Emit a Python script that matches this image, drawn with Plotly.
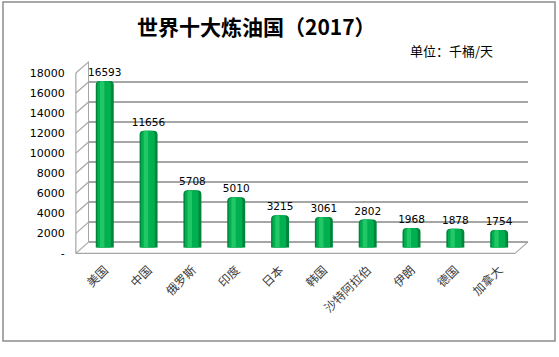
import plotly.graph_objects as go

categories = ["美国", "中国", "俄罗斯", "印度", "日本", "韩国", "沙特阿拉伯", "伊朗", "德国", "加拿大"]
values = [16593, 11656, 5708, 5010, 3215, 3061, 2802, 1968, 1878, 1754]
tick_vals = [0, 2000, 4000, 6000, 8000, 10000, 12000, 14000, 16000, 18000]
tick_text = ["-", "2000", "4000", "6000", "8000", "10000", "12000", "14000", "16000", "18000"]
title_text = "世界十大炼油国（2017）"
unit_text = "单位：千桶/天"

W, H = 559, 357
YMAX = 18000


def fx(px):
    return px / W


def fy(py):
    return 1 - py / H


# depth geometry (pixels)
FRONT_L, FRONT_R, FRONT_B, FRONT_T = 75, 515, 263, 75.7
BACK_L, BACK_R, BACK_B, BACK_T = 88, 528, 251, 64
MID_L, MID_R, MID_B, MID_T = 82, 521, 257, 69.5

fig = go.Figure()

# subplot 1: back wall gridlines (invisible trace to establish axes)
fig.add_trace(go.Scatter(x=[0, 1], y=[0, 0], mode="markers", marker=dict(opacity=0),
                         hoverinfo="skip", showlegend=False, xaxis="x", yaxis="y"))

# subplot 2: cylinder-like bars
fig.add_trace(go.Bar(x=categories, y=values, width=0.41, offset=-0.205,
                     marker=dict(color="#00863A", cornerradius=4, line=dict(width=0)),
                     text=[str(v) for v in values], textposition="outside", constraintext="none",
                     textfont=dict(family="DejaVu Sans", size=10.5, color="#000000"),
                     cliponaxis=False, showlegend=False, xaxis="x2", yaxis="y2"))
fig.add_trace(go.Bar(x=categories, y=values, width=0.31, offset=-0.17,
                     marker=dict(color="#00B050", cornerradius=4, line=dict(width=0)),
                     showlegend=False, xaxis="x2", yaxis="y2"))
fig.add_trace(go.Bar(x=categories, y=values, width=0.1, offset=-0.11,
                     marker=dict(color="#22C866", cornerradius=3, line=dict(width=0)),
                     showlegend=False, xaxis="x2", yaxis="y2"))

grid_col = "#A6A6A6"
shapes = []
# outer border
shapes.append(dict(type="rect", xref="paper", yref="paper", x0=fx(2), x1=fx(555), y0=fy(354), y1=fy(2),
                   line=dict(color="#8C8C8C", width=1.5), layer="below"))
# diagonals on left wall
for v in tick_vals:
    yf = FRONT_B - v / YMAX * (FRONT_B - FRONT_T)
    yb = BACK_B - v / YMAX * (BACK_B - BACK_T)
    shapes.append(dict(type="line", xref="paper", yref="paper", x0=fx(FRONT_L), y0=fy(yf),
                       x1=fx(BACK_L), y1=fy(yb), line=dict(color=grid_col, width=1.2), layer="below"))
# front-left vertical edge
shapes.append(dict(type="line", xref="paper", yref="paper", x0=fx(FRONT_L), y0=fy(FRONT_B),
                   x1=fx(FRONT_L), y1=fy(FRONT_T), line=dict(color=grid_col, width=1.2), layer="below"))
# floor front edge and right edge
shapes.append(dict(type="line", xref="paper", yref="paper", x0=fx(FRONT_L), y0=fy(FRONT_B),
                   x1=fx(FRONT_R), y1=fy(FRONT_B), line=dict(color=grid_col, width=1.2), layer="below"))
shapes.append(dict(type="line", xref="paper", yref="paper", x0=fx(FRONT_R), y0=fy(FRONT_B),
                   x1=fx(BACK_R), y1=fy(BACK_B), line=dict(color=grid_col, width=1.2), layer="below"))

fig.update_layout(
    width=W, height=H,
    margin=dict(l=0, r=0, t=0, b=0),
    paper_bgcolor="white",
    plot_bgcolor="rgba(0,0,0,0)",
    barmode="overlay",
    showlegend=False,
    shapes=shapes,
    xaxis=dict(domain=[fx(BACK_L), fx(BACK_R)], range=[0, 1], visible=False, fixedrange=True),
    yaxis=dict(domain=[fy(BACK_B), fy(BACK_T)], range=[0, YMAX], tickvals=tick_vals,
               showgrid=True, gridcolor=grid_col, gridwidth=1.5, zeroline=True,
               zerolinecolor=grid_col, zerolinewidth=1.5, showticklabels=False,
               showline=True, linecolor=grid_col, linewidth=1.2, anchor="x"),
    xaxis2=dict(domain=[fx(MID_L), fx(MID_R)], anchor="y2", showgrid=False, showline=False,
                zeroline=False, tickangle=-45, ticks="", ticklabelstandoff=12,
                tickfont=dict(family="Noto Sans CJK SC", size=12, color="#404040")),
    yaxis2=dict(domain=[fy(MID_B), fy(MID_T)], anchor="x2", range=[0, YMAX],
                tickvals=tick_vals, ticktext=tick_text, showgrid=False, zeroline=False,
                showline=False, ticks="", ticklabelshift=6, ticklabelstandoff=17,
                tickfont=dict(family="DejaVu Sans", size=11, color="#000000")),
    annotations=[
        dict(text="<b>" + title_text + "</b>", x=fx(256), y=fy(27), xref="paper", yref="paper",
             showarrow=False, xanchor="center", yanchor="middle",
             font=dict(family="Noto Sans CJK SC", size=21, color="#000000")),
        dict(text=unit_text, x=fx(495), y=fy(52), xref="paper", yref="paper",
             showarrow=False, xanchor="right", yanchor="middle",
             font=dict(family="Noto Sans CJK SC", size=13, color="#000000")),
    ],
)

fig.write_html("out.html", config={"displayModeBar": False},
               post_script="document.body.style.margin='0';")
